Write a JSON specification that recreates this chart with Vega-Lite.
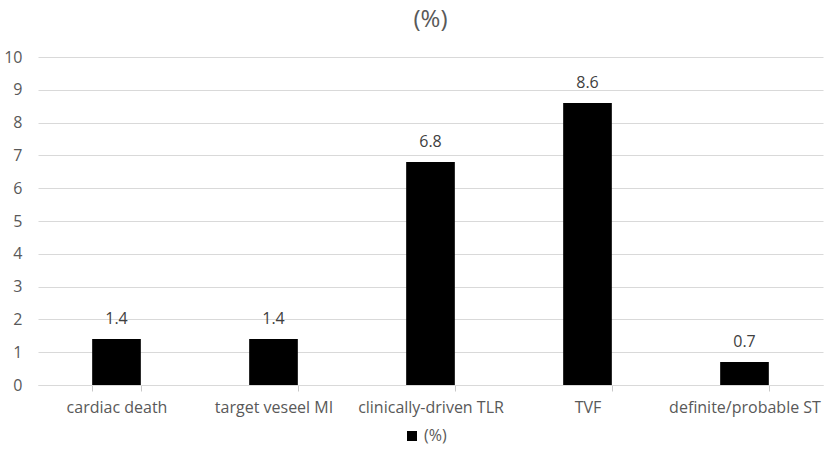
{
  "$schema": "https://vega.github.io/schema/vega-lite/v6.json",
  "width": 829,
  "height": 464,
  "autosize": {"type": "fit", "contains": "padding"},
  "padding": {"left": 3, "right": 6, "top": 8, "bottom": 49},
  "background": "white",
  "config": {
    "font": "Open Sans",
    "view": {"stroke": null},
    "axis": {"labelColor": "#595959", "labelFontSize": 16, "domainColor": "#d9d9d9", "tickColor": "#c8c8c8", "gridColor": "#d9d9d9"}
  },
  "title": {"text": "(%)", "fontSize": 24, "fontWeight": "normal", "color": "#595959", "offset": 17},
  "data": {
    "values": [
      {"outcome": "cardiac death", "pct": 1.4},
      {"outcome": "target veseel MI", "pct": 1.4},
      {"outcome": "clinically-driven TLR", "pct": 6.8},
      {"outcome": "TVF", "pct": 8.6},
      {"outcome": "definite/probable ST", "pct": 0.7}
    ]
  },
  "encoding": {
    "x": {
      "field": "outcome",
      "type": "nominal",
      "sort": null,
      "title": null,
      "scale": {"paddingInner": 0.69, "paddingOuter": 0.345},
      "axis": {"labelAngle": 0, "ticks": true, "tickBand": "extent", "tickSize": 6, "labelPadding": 8, "grid": false}
    },
    "y": {
      "field": "pct",
      "type": "quantitative",
      "title": null,
      "scale": {"domain": [0, 10]},
      "axis": {"values": [0, 1, 2, 3, 4, 5, 6, 7, 8, 9, 10], "labelOverlap": false, "domain": false, "ticks": false, "labelPadding": 16}
    }
  },
  "layer": [
    {
      "mark": {"type": "bar", "color": "black"},
      "encoding": {
        "color": {
          "datum": "(%)",
          "type": "nominal",
          "scale": {"range": ["black"]},
          "legend": {"title": null, "orient": "none", "legendX": 366, "legendY": 371, "symbolType": "square", "symbolSize": 100, "labelFontSize": 16, "labelColor": "#595959"}
        }
      }
    },
    {
      "mark": {"type": "text", "dy": -20, "fontSize": 16, "color": "#404040"},
      "encoding": {"text": {"field": "pct", "type": "quantitative", "format": ".1f"}}
    }
  ]
}
